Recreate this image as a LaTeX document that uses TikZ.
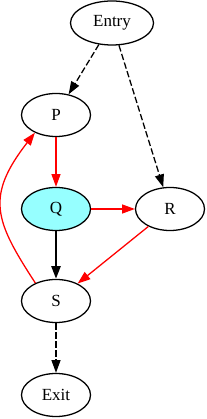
\documentclass[tikz,border=0pt]{standalone}
\usepackage{fontspec}
\setmainfont{Liberation Serif}
\usetikzlibrary{arrows.meta,shapes.geometric}

\begin{document}
\begin{tikzpicture}[x=1pt,y=1pt,>={Triangle[length=12.8pt,width=9pt]},
 font=\fontsize{17}{20}\selectfont,line width=1.28pt]
\definecolor{hot}{RGB}{255,0,0}
\definecolor{focus}{RGB}{150,255,255}
\tikzset{
 block/.style={ellipse,draw,inner sep=0pt,minimum width=69pt,minimum height=43pt},
 jump/.style={->,dash pattern=on 6.4pt off 2.6pt},
 taken/.style={->,hot,line width=1.28pt},
}
\useasboundingbox (0,0) rectangle (206,419);
\node[block,minimum width=83pt,minimum height=44pt] (entry) at (112,396) {Entry};
\node[block] (p) at (56,304) {P};
\node[block,fill=focus] (q) at (56,210) {Q};
\node[block] (r) at (170,210) {R};
\node[block] (s) at (56,118) {S};
\node[block] (exit) at (56,24) {Exit};
% dashed edges leave Entry and enter Exit
\draw[jump] (entry) -- (p);
\draw[jump] (entry) -- (r);
\draw[jump] (s) -- (exit);
\draw[taken] (p) -- (q);
\draw[taken] (q) -- (r);
\draw[taken] (r) -- (s);
\draw[->,line width=2.56pt] (q) -- (s);
% back edge from S round the left side to P
\draw[taken] (s.139) .. controls (-5,198) and (-15,222) .. (p.220);
\end{tikzpicture}
\end{document}
